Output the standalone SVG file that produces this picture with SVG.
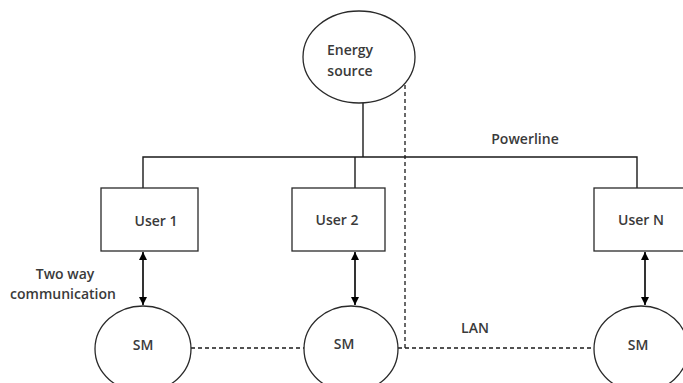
<svg xmlns="http://www.w3.org/2000/svg" width="683" height="383" viewBox="0 0 683 383">
<defs>
<marker id="ah" viewBox="0 0 10 10" refX="10" refY="5" markerWidth="8" markerHeight="8" markerUnits="userSpaceOnUse" orient="auto-start-reverse">
<path d="M0,0 L10,5 L0,10 z" fill="#000"/>
</marker>
<style>
.shape{fill:#fff;stroke:#2a2a2a;stroke-width:1.3}
.ln{fill:none;stroke:#1a1a1a;stroke-width:1.4}
.dash{fill:none;stroke:#1a1a1a;stroke-width:1.3;stroke-dasharray:4 3}
.arr{fill:none;stroke:#000;stroke-width:1.6;marker-start:url(#ah);marker-end:url(#ah)}
text{font-family:"Open Sans","Liberation Sans",sans-serif;font-size:14px;font-weight:600;fill:#3a3a3a;text-anchor:middle}
</style>
</defs>
<rect width="683" height="383" fill="#fff"/>
<g id="connectors">
<path class="ln" d="M363,102 V157"/>
<path class="ln" d="M143,188 V157 H637 V188"/>
<path class="ln" d="M355,157 V188"/>
<path class="dash" d="M405,78 V348"/>
<path class="dash" d="M191,348 H304"/>
<path class="dash" d="M398,348 H594"/>
<line class="arr" x1="143" y1="252" x2="143" y2="305"/>
<line class="arr" x1="355" y1="252" x2="355" y2="305"/>
<line class="arr" x1="645" y1="252" x2="645" y2="305"/>
<text x="525" y="144">Powerline</text>
<text x="65" y="279">Two way</text>
<text x="63" y="299">communication</text>
<text x="475" y="333">LAN</text>
</g>
<g id="energy">
<ellipse class="shape" cx="359" cy="57" rx="56" ry="46"/>
<text x="350" y="55">Energy</text>
<text x="350" y="76">source</text>
</g>
<g id="user1">
<rect class="shape" x="101" y="188" width="97" height="63"/>
<text x="156" y="226">User 1</text>
</g>
<g id="user2">
<rect class="shape" x="292" y="188" width="93" height="63"/>
<text x="337" y="225">User 2</text>
</g>
<g id="userN">
<rect class="shape" x="594" y="188" width="95" height="63"/>
<text x="641" y="225">User N</text>
</g>
<g id="sm1">
<ellipse class="shape" cx="143" cy="349" rx="48" ry="43"/>
<text x="143" y="350">SM</text>
</g>
<g id="sm2">
<ellipse class="shape" cx="351" cy="349" rx="47" ry="43"/>
<text x="344" y="349">SM</text>
</g>
<g id="smN">
<ellipse class="shape" cx="641" cy="349" rx="47" ry="43"/>
<text x="638" y="350">SM</text>
</g>
</svg>
